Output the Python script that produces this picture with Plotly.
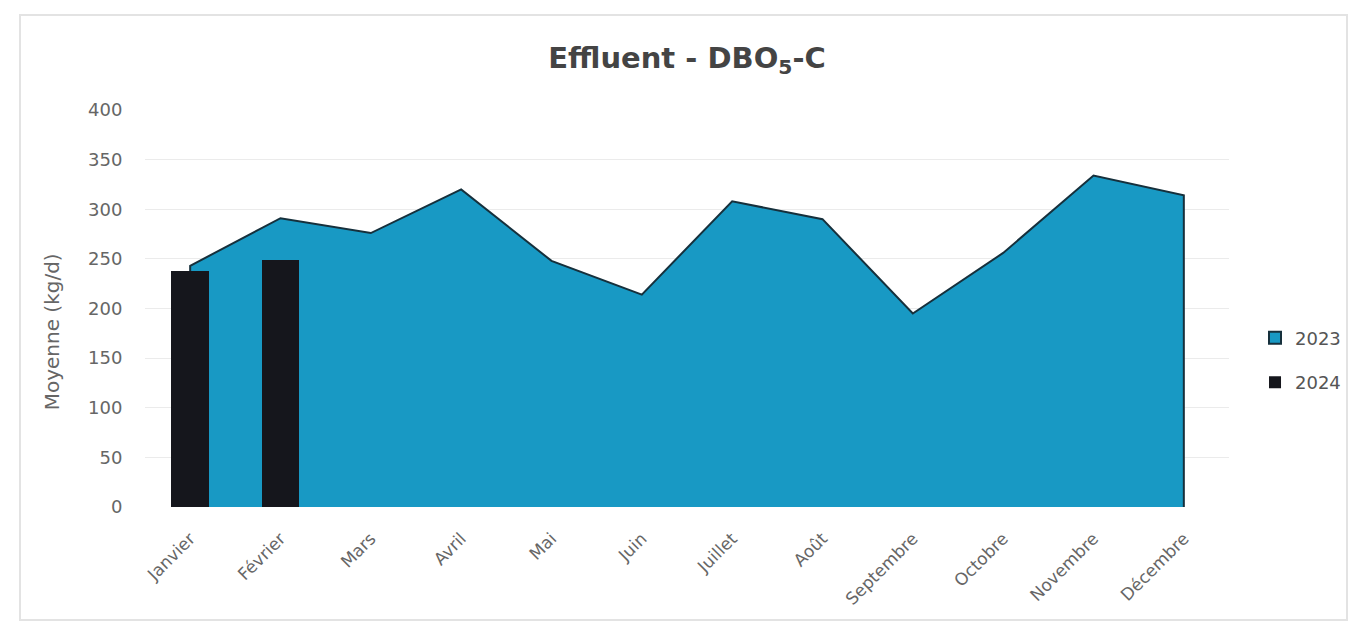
import plotly.graph_objects as go

months = ["Janvier", "Février", "Mars", "Avril", "Mai", "Juin", "Juillet",
          "Août", "Septembre", "Octobre", "Novembre", "Décembre"]
values_2023 = [243, 291, 276, 320, 248, 214, 308, 290, 195, 256, 334, 314]
months_2024 = ["Janvier", "Février"]
values_2024 = [238, 249]
y_ticks = [0, 50, 100, 150, 200, 250, 300, 350, 400]

x_idx = list(range(len(months)))
x_2024 = [months.index(m) for m in months_2024]

AREA = "#1899C4"
EDGE = "#16303c"
FONT = "DejaVu Sans, Open Sans, sans-serif"

# area outline closes down to the axis at both ends (as in the reference)
x_area = [x_idx[0]] + x_idx + [x_idx[-1]]
y_area = [0] + values_2023 + [0]

fig = go.Figure()
fig.add_trace(go.Scatter(
    x=x_area, y=y_area, name="2023", mode="lines",
    fill="tozeroy", fillcolor=AREA,
    line=dict(color=EDGE, width=2), showlegend=False,
))
# legend swatch for 2023 (square with dark border, like the reference)
fig.add_trace(go.Bar(
    x=[None], y=[None], name="2023", legendgroup="a",
    marker=dict(color=AREA, line=dict(color=EDGE, width=2)),
))
fig.add_trace(go.Bar(
    x=x_2024, y=values_2024, name="2024", width=0.42, legendgroup="b",
    marker=dict(color="#15161c", line=dict(width=0)),
    yaxis="y2",
))

W, H = 1341, 615
L, T = 137, 102
PW, PH = 1084, 397

fig.update_layout(
    width=W, height=H,
    paper_bgcolor="white", plot_bgcolor="white",
    margin=dict(l=L, r=W - L - PW, t=T, b=H - T - PH, autoexpand=False),
    title=dict(text="<b>Effluent - DBO<sub>5</sub>-C</b>", x=0.5, xref="paper",
               y=(H - 50) / H, yanchor="middle",
               font=dict(family=FONT, size=29, color="#444444")),
    xaxis=dict(range=[-0.5, 11.5], tickmode="array", tickvals=x_idx, ticktext=months,
               tickangle=-45, tickfont=dict(family=FONT, size=17, color="#666666"),
               showgrid=False, zeroline=False, showline=False,
               ticks="outside", ticklen=14, tickcolor="rgba(0,0,0,0)"),
    yaxis=dict(range=[0, 400], tickmode="array", tickvals=y_ticks,
               tickfont=dict(family=FONT, size=18, color="#666666"),
               gridcolor="#ebebeb", gridwidth=1,
               zeroline=False, showline=False, ticks="outside", ticklen=18,
               tickcolor="rgba(0,0,0,0)"),
    yaxis2=dict(range=[0, 400], overlaying="y", visible=False),
    bargap=0,
    legend=dict(x=1.024, y=0.37, xanchor="left", yanchor="middle",
                font=dict(family=FONT, size=18, color="#555555"),
                tracegroupgap=18, bgcolor="rgba(0,0,0,0)"),
    annotations=[dict(text="Moyenne (kg/d)", xref="paper", yref="paper",
                      x=(44 - L) / PW, y=0.44, xanchor="center", yanchor="middle",
                      textangle=-90, showarrow=False,
                      font=dict(family=FONT, size=20, color="#666666"))],
    shapes=[dict(type="rect", xref="paper", yref="paper",
                 x0=(12 - L) / PW, x1=(1339 - L) / PW,
                 y0=(T + PH - 612) / PH, y1=(T + PH - 7) / PH,
                 line=dict(color="#e3e3e3", width=2), fillcolor="rgba(0,0,0,0)",
                 layer="below")],
)

fig.write_html("out.html")
